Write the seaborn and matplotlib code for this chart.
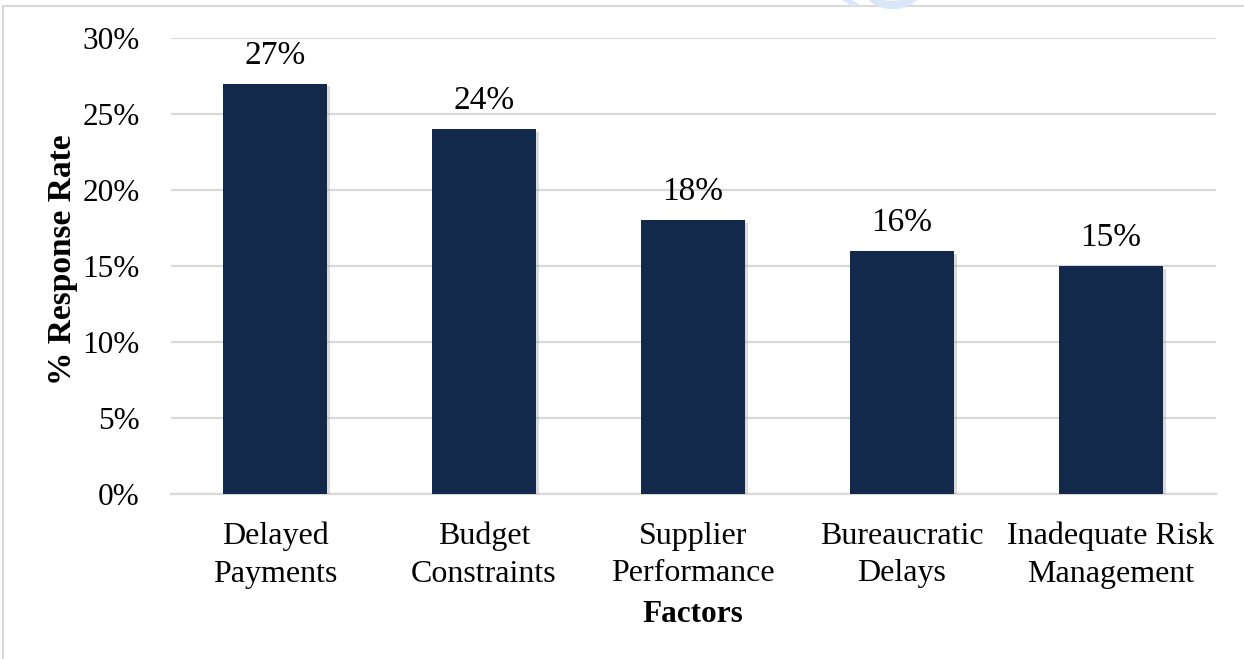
import matplotlib
matplotlib.use("Agg")
import matplotlib.pyplot as plt
import matplotlib.patheffects as pe
from matplotlib.patches import Rectangle, Ellipse, Polygon
import seaborn as sns
import pandas as pd

factors = ["Delayed\nPayments", "Budget\nConstraints", "Supplier\nPerformance",
           "Bureaucratic\nDelays", "Inadequate Risk\nManagement"]
response_rate = [27, 24, 18, 16, 15]
y_ticks = [0, 5, 10, 15, 20, 25, 30]
y_tick_labels = ["0%", "5%", "10%", "15%", "20%", "25%", "30%"]

df = pd.DataFrame({"Factors": factors, "Rate": response_rate})

sns.set_theme(style="white")
plt.rcParams["font.family"] = ["Liberation Serif", "DejaVu Serif"]

W, H = 1244, 659
fig = plt.figure(figsize=(W / 100, H / 100), dpi=100)
ax = fig.add_axes([170.5 / W, 1 - 494 / H, 1045 / W, 456 / H])

bar_color = "#13294B"
sns.barplot(data=df, x="Factors", y="Rate", color=bar_color, width=0.5,
            saturation=1, ax=ax, zorder=3)

for patch in ax.patches:
    patch.set_edgecolor("none")
    patch.set_path_effects([
        pe.SimplePatchShadow(offset=(2, -2), shadow_rgbFace="#9a9a9a", alpha=0.35),
        pe.Normal(),
    ])

for i, v in enumerate(response_rate):
    ax.text(i, v + 0.85, f"{v}%", ha="center", va="bottom", fontsize=24,
            color="black", zorder=4)

ax.set_ylim(0, 30)
ax.set_xlim(-0.5, len(factors) - 0.5)
ax.set_yticks(y_ticks)
ax.set_yticklabels(y_tick_labels, fontsize=22.5)
ax.tick_params(axis="x", labelsize=23, pad=20, length=0, colors="black")
ax.tick_params(axis="y", length=0, pad=22, colors="black")
for lbl in ax.get_xticklabels():
    lbl.set_linespacing(1.38)
ax.yaxis.grid(True, color="#d9d9d9", linewidth=1.6, zorder=0)
for side in ["top", "right", "left"]:
    ax.spines[side].set_visible(False)
ax.spines["bottom"].set_color("#d9d9d9")
ax.spines["bottom"].set_linewidth(1.6)

ax.set_xlabel("Factors", fontsize=22.5, fontweight="bold", va="center", color="black")
ax.xaxis.set_label_coords(0.5, (494 - 614) / 456)
ax.set_ylabel("% Response Rate", fontsize=24, fontweight="bold", va="center", color="black")
ax.yaxis.set_label_coords((62 - 170.5) / 1045, (494 - 260) / 456)

# page frame around the chart
fig.patches.append(Rectangle((3 / W, -0.05), 1.1, 1 - 6 / H + 0.05,
                             transform=fig.transFigure, fill=False,
                             edgecolor="#d9d9d9", linewidth=1.5))

# faint logo fragment peeking above the frame
logo = "#d9e7f6"
fig.patches.append(Polygon([(842 / W, 1), (852 / W, 1), (862 / W, 1 - 6 / H), (852 / W, 1 - 6 / H)],
                           closed=True, transform=fig.transFigure,
                           facecolor=logo, edgecolor="none"))
fig.patches.append(Ellipse((893 / W, 1 + 10 / H), 48 / W, 30 / H,
                           transform=fig.transFigure, fill=False,
                           edgecolor=logo, linewidth=6))

fig.savefig("out.png", dpi=100)
